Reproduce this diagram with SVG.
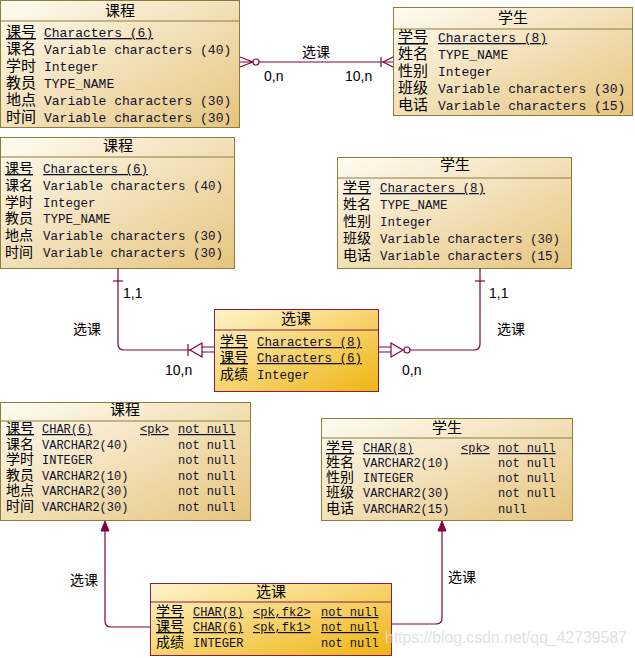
<svg xmlns="http://www.w3.org/2000/svg" width="635" height="658" viewBox="0 0 635 658">
<defs>
<linearGradient id="beige" x1="0" y1="0" x2="1" y2="1">
<stop offset="0" stop-color="#fffcf2"/>
<stop offset="1" stop-color="#e6c47e"/>
</linearGradient>
<linearGradient id="orange" x1="0" y1="0" x2="1" y2="1">
<stop offset="0" stop-color="#fff4cc"/>
<stop offset="1" stop-color="#efb412"/>
</linearGradient>
<style>
.box{fill:url(#beige);stroke:#8b7d3a;stroke-width:1}
.rel{fill:url(#orange);stroke:#8b1a4b;stroke-width:1}
.hl{stroke:#8b7d3a;stroke-width:1}
.hr{stroke:#8b1a4b;stroke-width:1}
.t{font-family:"Noto Sans CJK SC",sans-serif;font-size:15px;text-anchor:middle;fill:#000}
.n{font-family:"Noto Sans CJK SC",sans-serif;font-size:15px;fill:#000}
.n2{font-family:"Noto Sans CJK SC",sans-serif;font-size:14px;fill:#000}
.m{font-family:"Liberation Mono",monospace;font-size:13px;fill:#10102a}
.m2{font-family:"Liberation Mono",monospace;font-size:12.5px;fill:#10102a}
.m3{font-family:"Liberation Mono",monospace;font-size:12px;fill:#10102a}
.u{text-decoration:underline}
.lbl{font-family:"Liberation Sans","Noto Sans CJK SC",sans-serif;font-size:14px;fill:#000}
.c{fill:none;stroke:#800040;stroke-width:1.2}
.cw{fill:#fff;stroke:#800040;stroke-width:1.2}
.af{fill:#800040;stroke:#800040;stroke-width:1}
</style>
</defs>

<!-- Top conceptual model -->
<g id="course1">
<rect class="box" x="0.5" y="0.5" width="239" height="127"/>
<line class="hl" x1="0.5" y1="21" x2="239.5" y2="21"/>
<text class="t" x="120" y="16">课程</text>
<text class="n"><tspan class="u" x="6" y="37">课号</tspan><tspan x="6" y="54">课名</tspan><tspan x="6" y="71">学时</tspan><tspan x="6" y="88">教员</tspan><tspan x="6" y="105">地点</tspan><tspan x="6" y="122">时间</tspan></text>
<text class="m"><tspan class="u" x="44" y="37">Characters (6)</tspan><tspan x="44" y="54">Variable characters (40)</tspan><tspan x="44" y="71">Integer</tspan><tspan x="44" y="88">TYPE_NAME</tspan><tspan x="44" y="105">Variable characters (30)</tspan><tspan x="44" y="122">Variable characters (30)</tspan></text>
</g>

<g id="student1">
<rect class="box" x="393.5" y="7.5" width="239" height="108"/>
<line class="hl" x1="393.5" y1="29" x2="632.5" y2="29"/>
<text class="t" x="513" y="23">学生</text>
<text class="n"><tspan class="u" x="398" y="42">学号</tspan><tspan x="398" y="59">姓名</tspan><tspan x="398" y="76">性别</tspan><tspan x="398" y="93">班级</tspan><tspan x="398" y="110">电话</tspan></text>
<text class="m"><tspan class="u" x="438" y="42">Characters (8)</tspan><tspan x="438" y="59">TYPE_NAME</tspan><tspan x="438" y="76">Integer</tspan><tspan x="438" y="93">Variable characters (30)</tspan><tspan x="438" y="110">Variable characters (15)</tspan></text>
</g>

<!-- Middle logical model -->
<g id="course2">
<rect class="box" x="0.5" y="137.5" width="234" height="131"/>
<line class="hl" x1="0.5" y1="157" x2="234.5" y2="157"/>
<text class="t" x="118" y="151">课程</text>
<text class="n2"><tspan class="u" x="5" y="173">课号</tspan><tspan x="5" y="190">课名</tspan><tspan x="5" y="207">学时</tspan><tspan x="5" y="223">教员</tspan><tspan x="5" y="240">地点</tspan><tspan x="5" y="257">时间</tspan></text>
<text class="m2"><tspan class="u" x="43" y="173">Characters (6)</tspan><tspan x="43" y="190">Variable characters (40)</tspan><tspan x="43" y="207">Integer</tspan><tspan x="43" y="223">TYPE_NAME</tspan><tspan x="43" y="240">Variable characters (30)</tspan><tspan x="43" y="257">Variable characters (30)</tspan></text>
</g>

<g id="student2">
<rect class="box" x="337.5" y="157.5" width="234" height="111"/>
<line class="hl" x1="337.5" y1="178" x2="571.5" y2="178"/>
<text class="t" x="455" y="170">学生</text>
<text class="n2"><tspan class="u" x="343" y="192">学号</tspan><tspan x="343" y="209">姓名</tspan><tspan x="343" y="226">性别</tspan><tspan x="343" y="243">班级</tspan><tspan x="343" y="260">电话</tspan></text>
<text class="m2"><tspan class="u" x="380" y="192">Characters (8)</tspan><tspan x="380" y="209">TYPE_NAME</tspan><tspan x="380" y="226">Integer</tspan><tspan x="380" y="243">Variable characters (30)</tspan><tspan x="380" y="260">Variable characters (15)</tspan></text>
</g>

<g id="enroll2">
<rect class="rel" x="214.5" y="309.5" width="164" height="82"/>
<line class="hr" x1="214.5" y1="330" x2="378.5" y2="330"/>
<text class="t" x="296" y="324">选课</text>
<text class="n2"><tspan class="u" x="220" y="346">学号</tspan><tspan class="u" x="220" y="362">课号</tspan><tspan x="220" y="379">成绩</tspan></text>
<text class="m2"><tspan class="u" x="257" y="346">Characters (8)</tspan><tspan class="u" x="257" y="362">Characters (6)</tspan><tspan x="257" y="379">Integer</tspan></text>
</g>

<!-- Bottom physical model -->
<g id="course3">
<rect class="box" x="0.5" y="402.5" width="250" height="118"/>
<line class="hl" x1="0.5" y1="421" x2="250.5" y2="421"/>
<text class="t" x="125" y="415">课程</text>
<text class="n2"><tspan class="u" x="6" y="433">课号</tspan><tspan x="6" y="449">课名</tspan><tspan x="6" y="464">学时</tspan><tspan x="6" y="480">教员</tspan><tspan x="6" y="495">地点</tspan><tspan x="6" y="511">时间</tspan></text>
<text class="m3"><tspan class="u" x="42" y="433">CHAR(6)</tspan><tspan x="42" y="449">VARCHAR2(40)</tspan><tspan x="42" y="464">INTEGER</tspan><tspan x="42" y="480">VARCHAR2(10)</tspan><tspan x="42" y="495">VARCHAR2(30)</tspan><tspan x="42" y="511">VARCHAR2(30)</tspan></text>
<text class="m3 u" x="140" y="433">&lt;pk&gt;</text>
<text class="m3"><tspan class="u" x="178" y="433">not null</tspan><tspan x="178" y="449">not null</tspan><tspan x="178" y="464">not null</tspan><tspan x="178" y="480">not null</tspan><tspan x="178" y="495">not null</tspan><tspan x="178" y="511">not null</tspan></text>
</g>

<g id="student3">
<rect class="box" x="321.5" y="418.5" width="251" height="102"/>
<line class="hl" x1="321.5" y1="438" x2="572.5" y2="438"/>
<text class="t" x="447" y="433">学生</text>
<text class="n2"><tspan class="u" x="326" y="452">学号</tspan><tspan x="326" y="467">姓名</tspan><tspan x="326" y="482">性别</tspan><tspan x="326" y="497">班级</tspan><tspan x="326" y="513">电话</tspan></text>
<text class="m3"><tspan class="u" x="363" y="452">CHAR(8)</tspan><tspan x="363" y="467">VARCHAR2(10)</tspan><tspan x="363" y="482">INTEGER</tspan><tspan x="363" y="497">VARCHAR2(30)</tspan><tspan x="363" y="513">VARCHAR2(15)</tspan></text>
<text class="m3 u" x="461" y="452">&lt;pk&gt;</text>
<text class="m3"><tspan class="u" x="498" y="452">not null</tspan><tspan x="498" y="467">not null</tspan><tspan x="498" y="482">not null</tspan><tspan x="498" y="497">not null</tspan><tspan x="498" y="513">null</tspan></text>
</g>

<g id="enroll3">
<rect class="rel" x="150.5" y="583.5" width="241" height="72"/>
<line class="hr" x1="150.5" y1="602" x2="391.5" y2="602"/>
<text class="t" x="271" y="597">选课</text>
<text class="n2"><tspan class="u" x="156" y="616">学号</tspan><tspan class="u" x="156" y="631">课号</tspan><tspan x="156" y="647">成绩</tspan></text>
<text class="m3"><tspan class="u" x="193" y="616">CHAR(8)</tspan><tspan class="u" x="193" y="631">CHAR(6)</tspan><tspan x="193" y="647">INTEGER</tspan></text>
<text class="m3 u"><tspan x="253" y="616">&lt;pk,fk2&gt;</tspan><tspan x="253" y="631">&lt;pk,fk1&gt;</tspan></text>
<text class="m3"><tspan class="u" x="321" y="616">not null</tspan><tspan class="u" x="321" y="631">not null</tspan><tspan x="321" y="647">not null</tspan></text>
</g>

<!-- Connectors -->
<g id="connectors">
<line class="c" x1="259" y1="62" x2="393" y2="62"/>
<path class="c" d="M253,62 L240,57 M253,62 L240,62 M253,62 L240,67"/>
<circle class="cw" cx="256" cy="62" r="3"/>
<line class="c" x1="381" y1="57" x2="381" y2="67"/>
<path class="c" d="M383,62 L393,57 M383,62 L393,67"/>
<text class="lbl" x="302" y="57">选课</text>
<text class="lbl" x="264" y="81">0,n</text>
<text class="lbl" x="345" y="81">10,n</text>

<path class="c" d="M118,268 V344 Q118,350 124,350 H190"/>
<line class="c" x1="113" y1="281" x2="123" y2="281"/>
<line class="c" x1="188" y1="344" x2="188" y2="356"/>
<polygon class="cw" points="190,350 202,343 202,357"/>
<path class="c" d="M202,347 H214 M202,352 H214"/>
<text class="lbl" x="123" y="298">1,1</text>
<text class="lbl" x="73" y="334">选课</text>
<text class="lbl" x="165" y="375">10,n</text>

<path class="c" d="M379,347 H391 M379,352 H391"/>
<polygon class="cw" points="391,343 391,357 403,350"/>
<circle class="cw" cx="407" cy="350" r="3"/>
<path class="c" d="M410,350 H474 Q480,350 480,344 V268"/>
<line class="c" x1="475" y1="281" x2="485" y2="281"/>
<text class="lbl" x="489" y="298">1,1</text>
<text class="lbl" x="497" y="334">选课</text>
<text class="lbl" x="402" y="375">0,n</text>

<path class="c" d="M150,627 H111 Q105,627 105,621 V530"/>
<polygon class="af" points="105,521 109,531 101,531"/>
<text class="lbl" x="70" y="585">选课</text>

<path class="c" d="M392,624 H436 Q442,624 442,618 V530"/>
<polygon class="af" points="442,521 446,531 438,531"/>
<text class="lbl" x="448" y="582">选课</text>
</g>

<text x="385" y="643" font-family="Liberation Sans, sans-serif" font-size="16" fill="#dcdcdc" fill-opacity="0.85" textLength="242">https://blog.csdn.net/qq_42739587</text>
</svg>
